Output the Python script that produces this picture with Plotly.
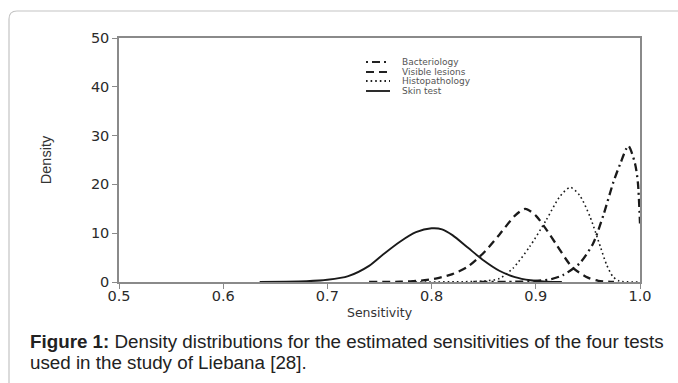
import plotly.graph_objects as go

# ---------------- data ----------------
series_names = ["Bacteriology", "Visible lesions", "Histopathology", "Skin test"]

bact_x = [0.84, 0.88, 0.90, 0.915, 0.926, 0.942, 0.955, 0.965, 0.9745, 0.981, 0.9888, 0.9952, 0.998, 1.0]
bact_y = [0.0, 0.05, 0.2, 0.6, 1.4, 3.8, 7.9, 13.8, 20.5, 24.2, 27.9, 24.3, 20.3, 12.0]

lesion_x = [0.74, 0.77, 0.79, 0.805, 0.82, 0.835, 0.85, 0.865, 0.88, 0.89, 0.90, 0.91, 0.92, 0.935, 0.95, 0.96, 0.975]
lesion_y = [0.0, 0.05, 0.3, 0.75, 1.6, 3.2, 6.0, 9.7, 13.6, 15.0, 13.6, 10.8, 7.6, 3.0, 0.9, 0.25, 0.0]

histo_x = [0.78, 0.83, 0.85, 0.865, 0.878, 0.894, 0.91, 0.923, 0.933, 0.942, 0.952, 0.962, 0.968, 0.974, 0.98, 1.0]
histo_y = [0.0, 0.05, 0.2, 0.7, 2.8, 7.2, 12.7, 17.5, 19.4, 17.8, 13.4, 7.2, 3.5, 1.1, 0.2, 0.0]

skin_x = [0.635, 0.66, 0.68, 0.70, 0.72, 0.74, 0.755, 0.77, 0.785, 0.80, 0.81, 0.82, 0.835, 0.85, 0.865, 0.88, 0.895, 0.91, 0.925]
skin_y = [0.0, 0.05, 0.15, 0.45, 1.2, 3.3, 5.9, 8.3, 10.2, 11.0, 10.8, 9.6, 7.0, 4.4, 2.3, 1.0, 0.35, 0.05, 0.0]

x_ticks = [0.5, 0.6, 0.7, 0.8, 0.9, 1.0]
y_ticks = [0, 10, 20, 30, 40, 50]

x_title = "Sensitivity"
y_title = "Density"
caption_lines = [
    "<b>Figure 1:</b> Density distributions for the estimated sensitivities of the four tests",
    "used in the study of Liebana [28].",
]

# ---------------- styles ----------------
W, H = 678, 383
ML, MR, MT, MB = 119, 38, 38, 101
PW, PH = W - ML - MR, H - MT - MB

def px(x):
    return (x - ML) / PW

def py(y):
    return (H - MB - y) / PH

ink = "#1a1a1a"
styles = [
    dict(dash="2px,4px,8px,4px", width=2.3),   # Bacteriology
    dict(dash="8px,5px", width=2.3),           # Visible lesions
    dict(dash="1.6px,3px", width=1.6),         # Histopathology
    dict(dash="solid", width=1.9),             # Skin test
]
xs = [bact_x, lesion_x, histo_x, skin_x]
ys = [bact_y, lesion_y, histo_y, skin_y]

fig = go.Figure()
for name, x, y, st in zip(series_names, xs, ys, styles):
    fig.add_trace(go.Scatter(
        x=x, y=y, mode="lines", name=name,
        line=dict(color=ink, width=st["width"], dash=st["dash"], shape="spline", smoothing=0.7),
        hoverinfo="skip", cliponaxis=False,
    ))

axis_common = dict(
    showgrid=False, zeroline=False, showline=True, linecolor="#8a8a8a", linewidth=1.5,
    mirror=True, ticks="outside", ticklen=5, tickwidth=1.3, tickcolor="#8a8a8a",
    tickfont=dict(family="DejaVu Sans", size=14.5, color="#2a2a2a"), automargin=False,
)

fig.update_xaxes(range=[0.5, 1.0], tickvals=x_ticks, ticktext=[f"{v:.1f}" for v in x_ticks],
                 ticklabelstandoff=-5,
                 title=dict(text=x_title, font=dict(family="DejaVu Sans", size=12.5, color="#333"), standoff=5),
                 **axis_common)
fig.update_yaxes(range=[0, 50], tickvals=y_ticks,
                 title=dict(text=y_title, font=dict(family="Liberation Sans", size=14.5, color="#333"), standoff=36),
                 **axis_common)

# manual compact legend
shapes = []
annotations = []
rows = [62, 72, 81, 91]
for name, st, ry in zip(series_names, styles, rows):
    shapes.append(dict(type="line", xref="paper", yref="paper",
                       x0=px(366), x1=px(390), y0=py(ry), y1=py(ry),
                       line=dict(color="#222", width=1.9, dash=st["dash"])))
    annotations.append(dict(xref="paper", yref="paper", x=px(400), y=py(ry),
                            xanchor="left", yanchor="middle", showarrow=False, text=name,
                            font=dict(family="DejaVu Sans", size=9, color="#555")))

# card border with rounded top-left corner
r = 8
card = (f"M {px(9)},{py(400)} L {px(9)},{py(11 + r)} "
        f"Q {px(9)},{py(11)} {px(9 + r)},{py(11)} L {px(700)},{py(11)}")
shapes.append(dict(type="path", xref="paper", yref="paper", path=card,
                   line=dict(color="#c4c4c4", width=1.2), layer="below"))

for line, cy in zip(caption_lines, [341, 362]):
    annotations.append(dict(xref="paper", yref="paper", x=px(28), y=py(cy),
                            xanchor="left", yanchor="middle", align="left", showarrow=False,
                            text=line,
                            font=dict(family="Liberation Sans", size=18.8, color="#222")))

fig.update_layout(
    width=W, height=H, margin=dict(l=ML, r=MR, t=MT, b=MB),
    paper_bgcolor="white", plot_bgcolor="white", showlegend=False,
    shapes=shapes, annotations=annotations,
)

fig.write_html("out.html", config={"displayModeBar": False},
               post_script="document.body.style.margin='0';")
